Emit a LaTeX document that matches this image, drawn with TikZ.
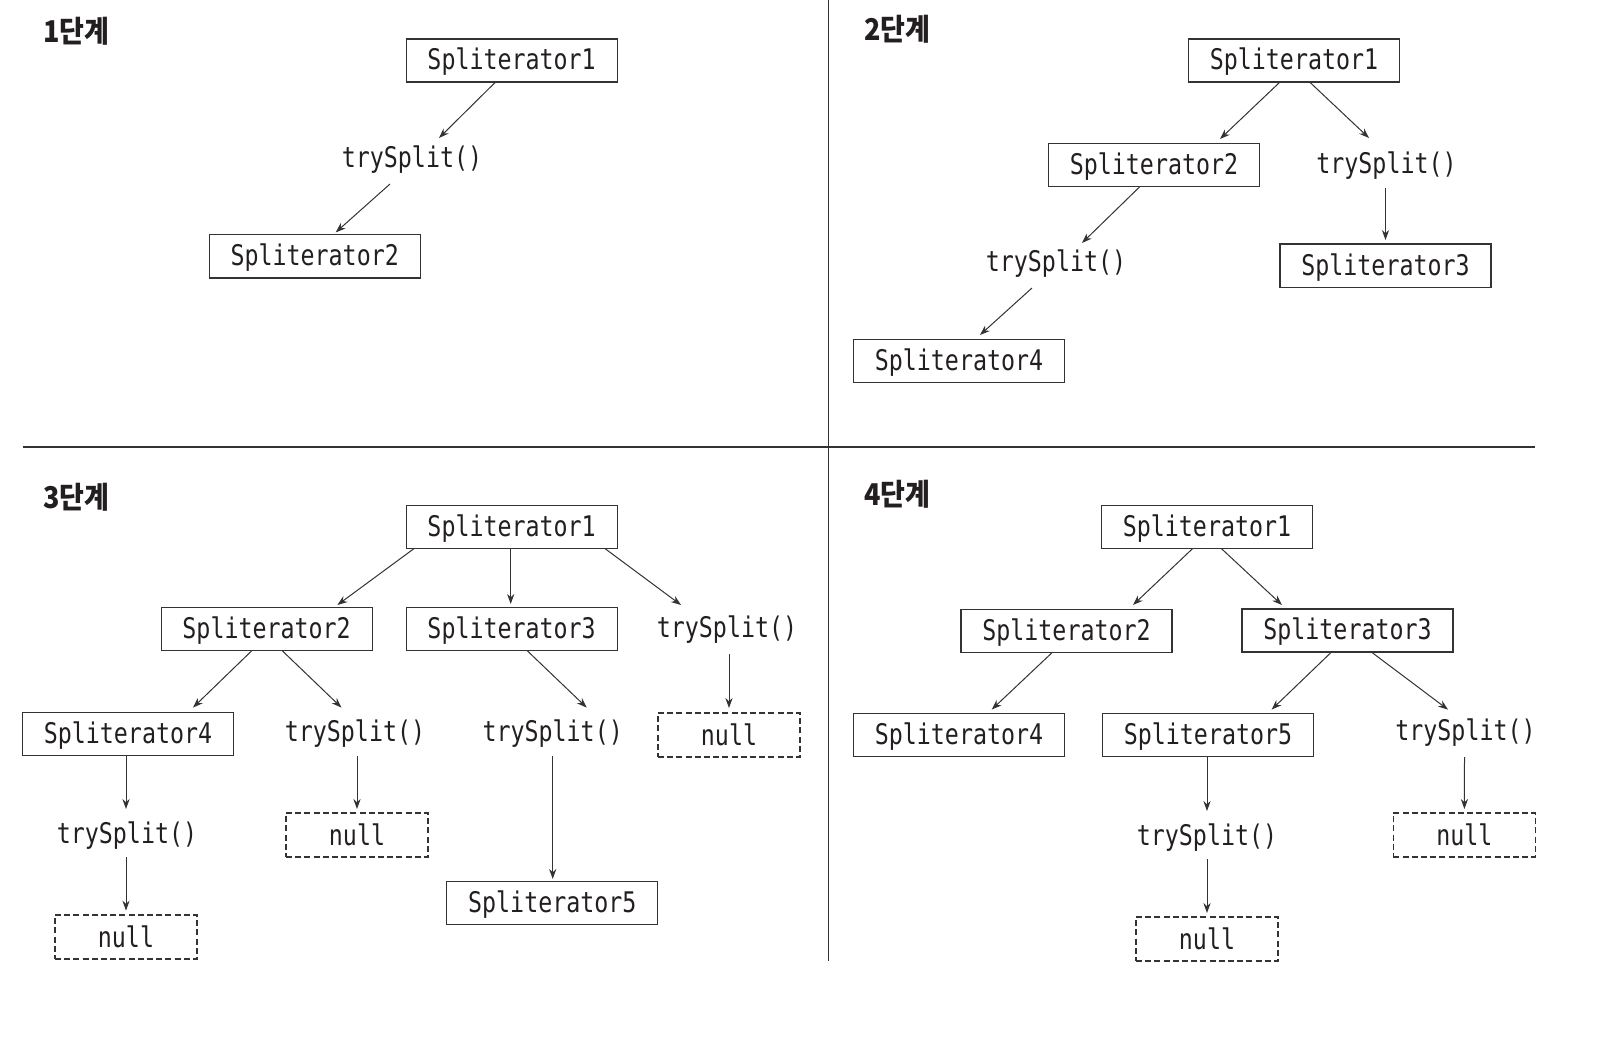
\documentclass[tikz,border=0pt]{standalone}
\usepackage{fontspec}
\setmainfont{DejaVu Sans Mono}[FakeStretch=0.82]
\newfontfamily\kr{Noto Sans CJK KR}[FakeStretch=0.9]
\usetikzlibrary{arrows.meta,calc}
\definecolor{ink}{HTML}{231F20}
\definecolor{ln}{HTML}{333333}
\tikzset{
  frame/.style={draw=ln, line width=0.6pt, minimum width=105.5pt, minimum height=21.5pt,
    inner sep=0pt, font=\fontsize{14.2}{16}\selectfont, text=ink},
  lowtext/.style={text height=10.8pt, text depth=1.4pt},
  box/.style={frame, lowtext},
  nullbox/.style={frame, dash pattern=on 3pt off 1.6pt, minimum width=71pt, minimum height=22pt},
  call/.style={inner sep=0pt, font=\fontsize{14.2}{16}\selectfont, text=ink, lowtext},
  stage/.style={anchor=west, inner sep=0pt, font=\kr\bfseries\fontsize{15}{18}\selectfont, text=ink},
  arr/.style={draw=ln, line width=0.5pt, -{Stealth[length=5pt,width=3.6pt]}},
  divider/.style={draw=ln, line width=0.7pt}
}
\begin{document}
\begin{tikzpicture}[x=0.5pt,y=-0.5pt]
\useasboundingbox (0,0) rectangle (1608,1038);
\fill[white] (0,0) rectangle (1608,1038);
% dividers
\coordinate (vt) at (828.6,0);
\coordinate (vb) at (828.6,961);
\coordinate (hl) at (22.6,447);
\coordinate (hr) at (1535,447);
\draw[divider] (vt) -- (vb);
\draw[divider] (hl) -- (hr);

% ---------- Panel 1 ----------
\node[stage] (l1) at (43,31) {1단계};
\node[box] (a1) at (511.6,60.5) {Spliterator1};
\node[call] (at1) at (412,158) {trySplit()};
\node[box] (a2) at (314.7,256.4) {Spliterator2};
\draw[arr] ($(a1)+(-16,21.5)$) -- ($(at1)+(27,-20)$);
\draw[arr] ($(at1)+(-22,26)$) -- ($(a2)+(21,-24)$);

% ---------- Panel 2 ----------
\node[stage] (l2) at (864,29) {2단계};
\node[box] (b1) at (1294,60.5) {Spliterator1};
\node[box] (b2) at (1154,165) {Spliterator2};
\node[call] (bt1) at (1386.5,164) {trySplit()};
\node[box] (b3) at (1385.5,265.6) {Spliterator3};
\node[call] (bt2) at (1056,262.5) {trySplit()};
\node[box] (b4) at (959,361) {Spliterator4};
\draw[arr] ($(b1)+(-14,21.5)$) -- ($(b2)+(66,-26)$);
\draw[arr] ($(b1)+(15.6,21.5)$) -- ($(bt1)+(-17.5,-26)$);
\draw[arr] ($(bt1)+(-1,24)$) -- ($(b3)+(0,-25.6)$);
\draw[arr] ($(b2)+(-14,21.5)$) -- ($(bt2)+(26,-19.5)$);
\draw[arr] ($(bt2)+(-24,25.5)$) -- ($(b4)+(21,-26)$);

% ---------- Panel 3 ----------
\node[stage] (l3) at (43,497) {3단계};
\node[box] (c1) at (511.6,526.6) {Spliterator1};
\node[box] (c2) at (266.6,629) {Spliterator2};
\node[box] (c3) at (511.6,629) {Spliterator3};
\node[call] (ct1) at (727,628) {trySplit()};
\node[nullbox] (cn1) at (729,735) {null};
\node[box] (c4) at (128,734) {Spliterator4};
\node[call] (ct2) at (355,732) {trySplit()};
\node[nullbox] (cn2) at (357,835) {null};
\node[call] (ct3) at (127,833.7) {trySplit()};
\node[nullbox] (cn3) at (126,937) {null};
\node[call] (ct4) at (552.7,732) {trySplit()};
\node[box] (c5) at (552.3,903) {Spliterator5};
\draw[arr] ($(c1)+(-97.6,22)$) -- ($(c2)+(70.8,-24)$);
\draw[arr] ($(c1)+(-0.9,22)$) -- ($(c3)+(-0.9,-25)$);
\draw[arr] ($(c1)+(93.4,22)$) -- ($(ct1)+(-46,-23)$);
\draw[arr] ($(ct1)+(2,26)$) -- ($(cn1)+(0,-27)$);
\draw[arr] ($(c2)+(-14.6,21.5)$) -- ($(c4)+(65,-26.4)$);
\draw[arr] ($(c2)+(15.4,21.5)$) -- ($(ct2)+(-13.5,-24.4)$);
\draw[arr] ($(ct2)+(2,24)$) -- ($(cn2)+(0,-26)$);
\draw[arr] ($(c4)+(-2,21.5)$) -- ($(ct3)+(-1,-24.7)$);
\draw[arr] ($(ct3)+(-1,23.3)$) -- ($(cn3)+(0,-26.4)$);
\draw[arr] ($(c3)+(15.4,21.5)$) -- ($(ct4)+(34,-24.4)$);
\draw[arr] ($(ct4)+(0,24)$) -- ($(c5)+(0.4,-24)$);

% ---------- Panel 4 ----------
\node[stage] (l4) at (864,494) {4단계};
\node[box] (d1) at (1207,526.6) {Spliterator1};
\node[box] (d2) at (1066.5,630.7) {Spliterator2};
\node[box] (d3) at (1347.5,630.5) {Spliterator3};
\node[box] (d4) at (959,735) {Spliterator4};
\node[box] (d5) at (1208,735) {Spliterator5};
\node[call] (dt1) at (1465.5,731) {trySplit()};
\node[nullbox] (dn1) at (1464.4,835) {null};
\node[call] (dt2) at (1207,836) {trySplit()};
\node[nullbox] (dn2) at (1207,939) {null};
\draw[arr] ($(d1)+(-14.4,22)$) -- ($(d2)+(66.5,-25.7)$);
\draw[arr] ($(d1)+(14.4,22)$) -- ($(d3)+(-65.5,-25.5)$);
\draw[arr] ($(d2)+(-14.5,22)$) -- ($(d4)+(32.7,-25.4)$);
\draw[arr] ($(d3)+(-16.5,22)$) -- ($(d5)+(63.6,-25.4)$);
\draw[arr] ($(d3)+(24.5,22)$) -- ($(dt1)+(-17.5,-21.4)$);
\draw[arr] ($(dt1)+(-1,26)$) -- ($(dn1)+(0,-26)$);
\draw[arr] ($(d5)+(-1,22)$) -- ($(dt2)+(0,-25)$);
\draw[arr] ($(dt2)+(0,23)$) -- ($(dn2)+(0,-26)$);
\end{tikzpicture}
\end{document}
